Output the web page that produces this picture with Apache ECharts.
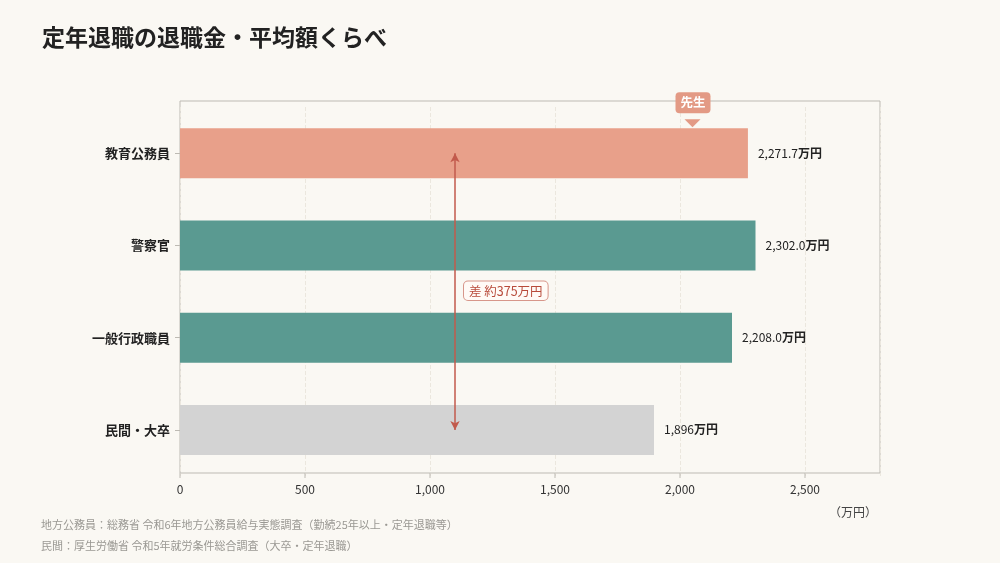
<!DOCTYPE html>
<html>
<head>
<meta charset="utf-8">
<script src="https://cdn.jsdelivr.net/npm/echarts@6/dist/echarts.min.js"></script>
<style>
html,body{margin:0;padding:0;background:#faf8f3;}
#main{width:1000px;height:563px;}
</style>
</head>
<body>
<div id="main"></div>
<script>
// データ
const categories = ['教育公務員', '警察官', '一般行政職員', '民間・大卒'];
const amounts = [2271.7, 2302.0, 2208.0, 1896];
const amountLabels = ['2,271.7', '2,302.0', '2,208.0', '1,896'];
const barColors = ['#e8a08a', '#5a9a91', '#5a9a91', '#d3d3d3'];
const diffText = '差 約375万円';
const diffAt = 1100;   // 矢印の位置(万円)
const badgeText = '先生';
const badgeAt = 2050;
const notes = [
  '地方公務員：総務省 令和6年地方公務員給与実態調査（勤続25年以上・定年退職等）',
  '民間：厚生労働省 令和5年就労条件総合調査（大卒・定年退職）'
];

const FONT = '"Noto Sans CJK JP", "Noto Sans", sans-serif';
const chart = echarts.init(document.getElementById('main'));

chart.setOption({
  backgroundColor: '#faf8f3',
  textStyle: { fontFamily: FONT },
  title: {
    text: '定年退職の退職金・平均額くらべ',
    left: 37, top: 21,
    textStyle: { fontSize: 23, fontWeight: 'bold', color: '#222', fontFamily: FONT }
  },
  grid: {
    left: 180, right: 120, top: 107, bottom: 87,
    show: false
  },
  xAxis: {
    type: 'value', min: 0, max: 2800, interval: 500,
    name: '（万円）', nameLocation: 'end',
    nameGap: 0,
    nameTextStyle: { color: '#444', fontSize: 12, align: 'right', verticalAlign: 'top', padding: [30, 3, 0, 0] },
    axisLine: { show: false },
    axisTick: { show: false },
    axisLabel: {
      color: '#333', fontSize: 12, margin: 7,
      formatter: v => v.toLocaleString('en-US'),
      showMaxLabel: false
    },
    splitLine: { show: true, lineStyle: { color: '#ebe7de', type: 'dashed' } }
  },
  yAxis: {
    type: 'category', data: categories, inverse: true,
    axisLine: { show: false },
    axisTick: { show: true, alignWithLabel: true, length: 5, lineStyle: { color: '#bdbab3' } },
    axisLabel: { color: '#222', fontSize: 13, fontWeight: 'bold', margin: 10 }
  },
  series: [{
    type: 'bar',
    data: amounts.map((v, i) => ({ value: v, itemStyle: { color: barColors[i] } })),
    barWidth: 50,
    label: {
      show: true, position: 'right', distance: 10,
      formatter: p => '{n|' + amountLabels[p.dataIndex] + '}{u|万円}',
      rich: {
        n: { color: '#222', fontSize: 12, fontFamily: FONT },
        u: { color: '#222', fontSize: 12, fontWeight: 'bold', fontFamily: FONT }
      }
    },
    markLine: {
      silent: true,
      symbol: ['arrow', 'arrow'],
      symbolSize: [7, 9],
      lineStyle: { color: '#c25a4c', width: 1.5, type: 'solid' },
      label: { show: false },
      data: [[
        { coord: [diffAt, categories[0]] },
        { coord: [diffAt, categories[3]] }
      ]]
    }
  }]
});

function drawExtras() {
  const p1 = chart.convertToPixel({ gridIndex: 0 }, [diffAt, categories[1]]);
  const p2 = chart.convertToPixel({ gridIndex: 0 }, [diffAt, categories[2]]);
  const midY = (p1[1] + p2[1]) / 2;
  const top = chart.convertToPixel({ gridIndex: 0 }, [badgeAt, categories[0]]);
  const barTop = top[1] - 25;
  // 枠線（プロット領域）
  const x0 = chart.convertToPixel({ gridIndex: 0 }, [0, categories[0]])[0];
  const x1 = chart.convertToPixel({ gridIndex: 0 }, [2800, categories[0]])[0];
  const frameTop = 101, frameBottom = 473;
  const ticks = [0, 500, 1000, 1500, 2000, 2500].map(v =>
    chart.convertToPixel({ gridIndex: 0 }, [v, categories[0]])[0]);
  chart.setOption({
    graphic: [
      {
        type: 'rect', z: -1, silent: true,
        shape: { x: x0, y: frameTop, width: x1 - x0, height: frameBottom - frameTop },
        style: { fill: 'none', stroke: '#bdbab3', lineWidth: 1 }
      }
    ].concat(ticks.map(x => ({
      type: 'line', silent: true,
      shape: { x1: x, y1: frameBottom, x2: x, y2: frameBottom + 5 },
      style: { stroke: '#bdbab3', lineWidth: 1 }
    }))).concat([
      {
        type: 'text', left: p1[0] + 8, top: midY - 11,
        style: {
          text: diffText, fill: '#b84a3a', font: '12.5px ' + FONT,
          backgroundColor: '#fffaf6', borderColor: '#d7968a', borderWidth: 1,
          borderRadius: 4, padding: [3, 5]
        }
      },
      {
        type: 'rect', shape: { x: top[0] - 17, y: barTop - 36, width: 35, height: 21, r: 4 },
        style: { fill: '#e39a85' }
      },
      {
        type: 'polygon',
        shape: { points: [[top[0] - 8, barTop - 9], [top[0] + 8, barTop - 9], [top[0], barTop - 1]] },
        style: { fill: '#e39a85' }
      },
      {
        type: 'text', x: top[0] + 0.5, y: barTop - 25.5,
        style: { text: badgeText, fill: '#fff', font: 'bold 12.5px ' + FONT, align: 'center', verticalAlign: 'middle' }
      },
      {
        type: 'text', left: 41, top: 519,
        style: { text: notes[0], fill: '#9a9893', font: '11px ' + FONT }
      },
      {
        type: 'text', left: 41, top: 540,
        style: { text: notes[1], fill: '#9a9893', font: '11px ' + FONT }
      }
    ])
  });
}
drawExtras();
</script>
</body>
</html>
